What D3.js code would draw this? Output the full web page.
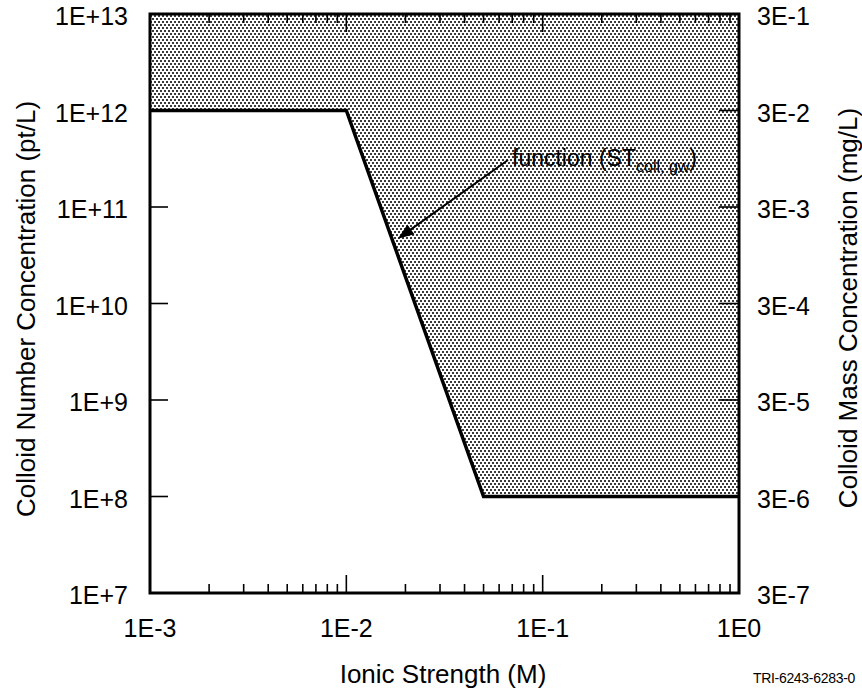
<!DOCTYPE html>
<html><head><meta charset="utf-8">
<script src="https://cdn.jsdelivr.net/npm/d3@7"></script>
<style>
html,body{margin:0;padding:0;background:#fff;}
svg{display:block;font-family:"Liberation Sans",Arial,Helvetica,sans-serif;}
</style></head>
<body>
<svg id="chart" width="862" height="691"></svg>
<script>
// ---- data ----
const xTickValues = [1e-3, 1e-2, 1e-1, 1];
const xTickLabels = ["1E-3", "1E-2", "1E-1", "1E0"];
const yTickValues = [1e7, 1e8, 1e9, 1e10, 1e11, 1e12, 1e13];
const yTickLabels = ["1E+7", "1E+8", "1E+9", "1E+10", "1E+11", "1E+12", "1E+13"];
const y2TickValues = [3e-7, 3e-6, 3e-5, 3e-4, 3e-3, 3e-2, 3e-1];
const y2TickLabels = ["3E-7", "3E-6", "3E-5", "3E-4", "3E-3", "3E-2", "3E-1"];
const ionicStrength = [1e-3, 1e-2, 5e-2, 1];
const colloidNumber = [1e12, 1e12, 1e8, 1e8];
const xTitle = "Ionic Strength (M)";
const yTitle = "Colloid Number Concentration (pt/L)";
const y2Title = "Colloid Mass Concentration (mg/L)";
const annotationMain = "function (ST";
const annotationSub = "coll, gw";
const annotationEnd = ")";
const annotationTarget = [1.83e-2, 4.7e10];
const footer = "TRI-6243-6283-0";

// ---- layout ----
const svg = d3.select("#chart");
const L = 150, R = 739, T = 14, B = 593;
const x = d3.scaleLog().domain([1e-3, 1]).range([L, R]);
const y = d3.scaleLog().domain([1e7, 1e13]).range([B, T]);
const y2 = d3.scaleLog().domain([3e-7, 3e-1]).range([B, T]);

// stipple pattern
const defs = svg.append("defs");
const pat = defs.append("pattern").attr("id", "stip").attr("patternUnits", "userSpaceOnUse")
  .attr("width", 4).attr("height", 6);
pat.append("rect").attr("width", 4).attr("height", 6).attr("fill", "#fff");
pat.append("rect").attr("x", 0).attr("y", 0).attr("width", 2).attr("height", 2).attr("fill", "#3a3a3a");
pat.append("rect").attr("x", 2).attr("y", 3).attr("width", 2).attr("height", 2).attr("fill", "#3a3a3a");

const pts = ionicStrength.map((v, i) => [x(v), y(colloidNumber[i])]);
// shaded region above curve
const area = d3.area().x(d => d[0]).y0(y(1e13)).y1(d => d[1]);
svg.append("path").datum(pts).attr("d", area).attr("fill", "url(#stip)");

// curve
svg.append("path").datum(pts).attr("d", d3.line())
  .attr("fill", "none").attr("stroke", "#000").attr("stroke-width", 3.5).attr("stroke-linejoin", "miter");

// ticks
const minor = [];
for (let e = -3; e < 0; e++) for (let m = 2; m <= 9; m++) minor.push(m * Math.pow(10, e));
const tk = svg.append("g").attr("stroke", "#000").attr("stroke-width", 1.6);
minor.forEach(v => {
  tk.append("line").attr("x1", x(v)).attr("x2", x(v)).attr("y1", B).attr("y2", B - 9);
  tk.append("line").attr("x1", x(v)).attr("x2", x(v)).attr("y1", T).attr("y2", T + 9);
});
xTickValues.forEach(v => {
  tk.append("line").attr("x1", x(v)).attr("x2", x(v)).attr("y1", B).attr("y2", B - 18);
  tk.append("line").attr("x1", x(v)).attr("x2", x(v)).attr("y1", T).attr("y2", T + 18);
});
yTickValues.forEach(v => {
  tk.append("line").attr("x1", L).attr("x2", L + 18).attr("y1", y(v)).attr("y2", y(v));
});
y2TickValues.forEach(v => {
  tk.append("line").attr("x1", R).attr("x2", R - 20).attr("y1", y2(v)).attr("y2", y2(v));
});

// frame
svg.append("rect").attr("x", L).attr("y", T).attr("width", R - L).attr("height", B - T)
  .attr("fill", "none").attr("stroke", "#000").attr("stroke-width", 3);

// tick labels
const fs = 25;
svg.append("g").selectAll("text").data(xTickValues).join("text")
  .attr("x", d => x(d)).attr("y", 637).attr("text-anchor", "middle")
  .attr("font-size", fs).text((d, i) => xTickLabels[i]);
svg.append("g").selectAll("text").data(yTickValues).join("text")
  .attr("x", 128).attr("y", d => y(d) + 11).attr("text-anchor", "end")
  .attr("font-size", fs).text((d, i) => yTickLabels[i]);
svg.append("g").selectAll("text").data(y2TickValues).join("text")
  .attr("x", 757).attr("y", d => y2(d) + 11).attr("text-anchor", "start")
  .attr("font-size", fs).text((d, i) => y2TickLabels[i]);

// titles
svg.append("text").attr("x", 443).attr("y", 683).attr("text-anchor", "middle")
  .attr("font-size", 26).text(xTitle);
svg.append("text").attr("transform", "translate(35,309) rotate(-90)").attr("text-anchor", "middle")
  .attr("font-size", 26).text(yTitle);
svg.append("text").attr("transform", "translate(857,308) rotate(-90)").attr("text-anchor", "middle")
  .attr("font-size", 26).text(y2Title);

// annotation
const ann = svg.append("text").attr("x", 512).attr("y", 166).attr("font-size", 23);
ann.append("tspan").text(annotationMain);
ann.append("tspan").attr("font-size", 16).attr("dy", 6).text(annotationSub);
ann.append("tspan").attr("dy", -6).text(annotationEnd);
const tip = [x(annotationTarget[0]), y(annotationTarget[1])];
const start = [508, 160];
const ang = Math.atan2(tip[1] - start[1], tip[0] - start[0]);
svg.append("line").attr("x1", start[0]).attr("y1", start[1])
  .attr("x2", tip[0] - 10 * Math.cos(ang)).attr("y2", tip[1] - 10 * Math.sin(ang))
  .attr("stroke", "#000").attr("stroke-width", 2);
const ah = 16, aw = 6;
const p1 = [tip[0] - ah * Math.cos(ang) + aw * Math.sin(ang), tip[1] - ah * Math.sin(ang) - aw * Math.cos(ang)];
const p2 = [tip[0] - ah * Math.cos(ang) - aw * Math.sin(ang), tip[1] - ah * Math.sin(ang) + aw * Math.cos(ang)];
svg.append("path").attr("d", `M${tip[0]},${tip[1]}L${p1[0]},${p1[1]}L${p2[0]},${p2[1]}Z`).attr("fill", "#000");

// footer
svg.append("text").attr("x", 855).attr("y", 683).attr("text-anchor", "end")
  .attr("font-size", 14).attr("letter-spacing", -0.3).text(footer);
</script>
</body></html>
